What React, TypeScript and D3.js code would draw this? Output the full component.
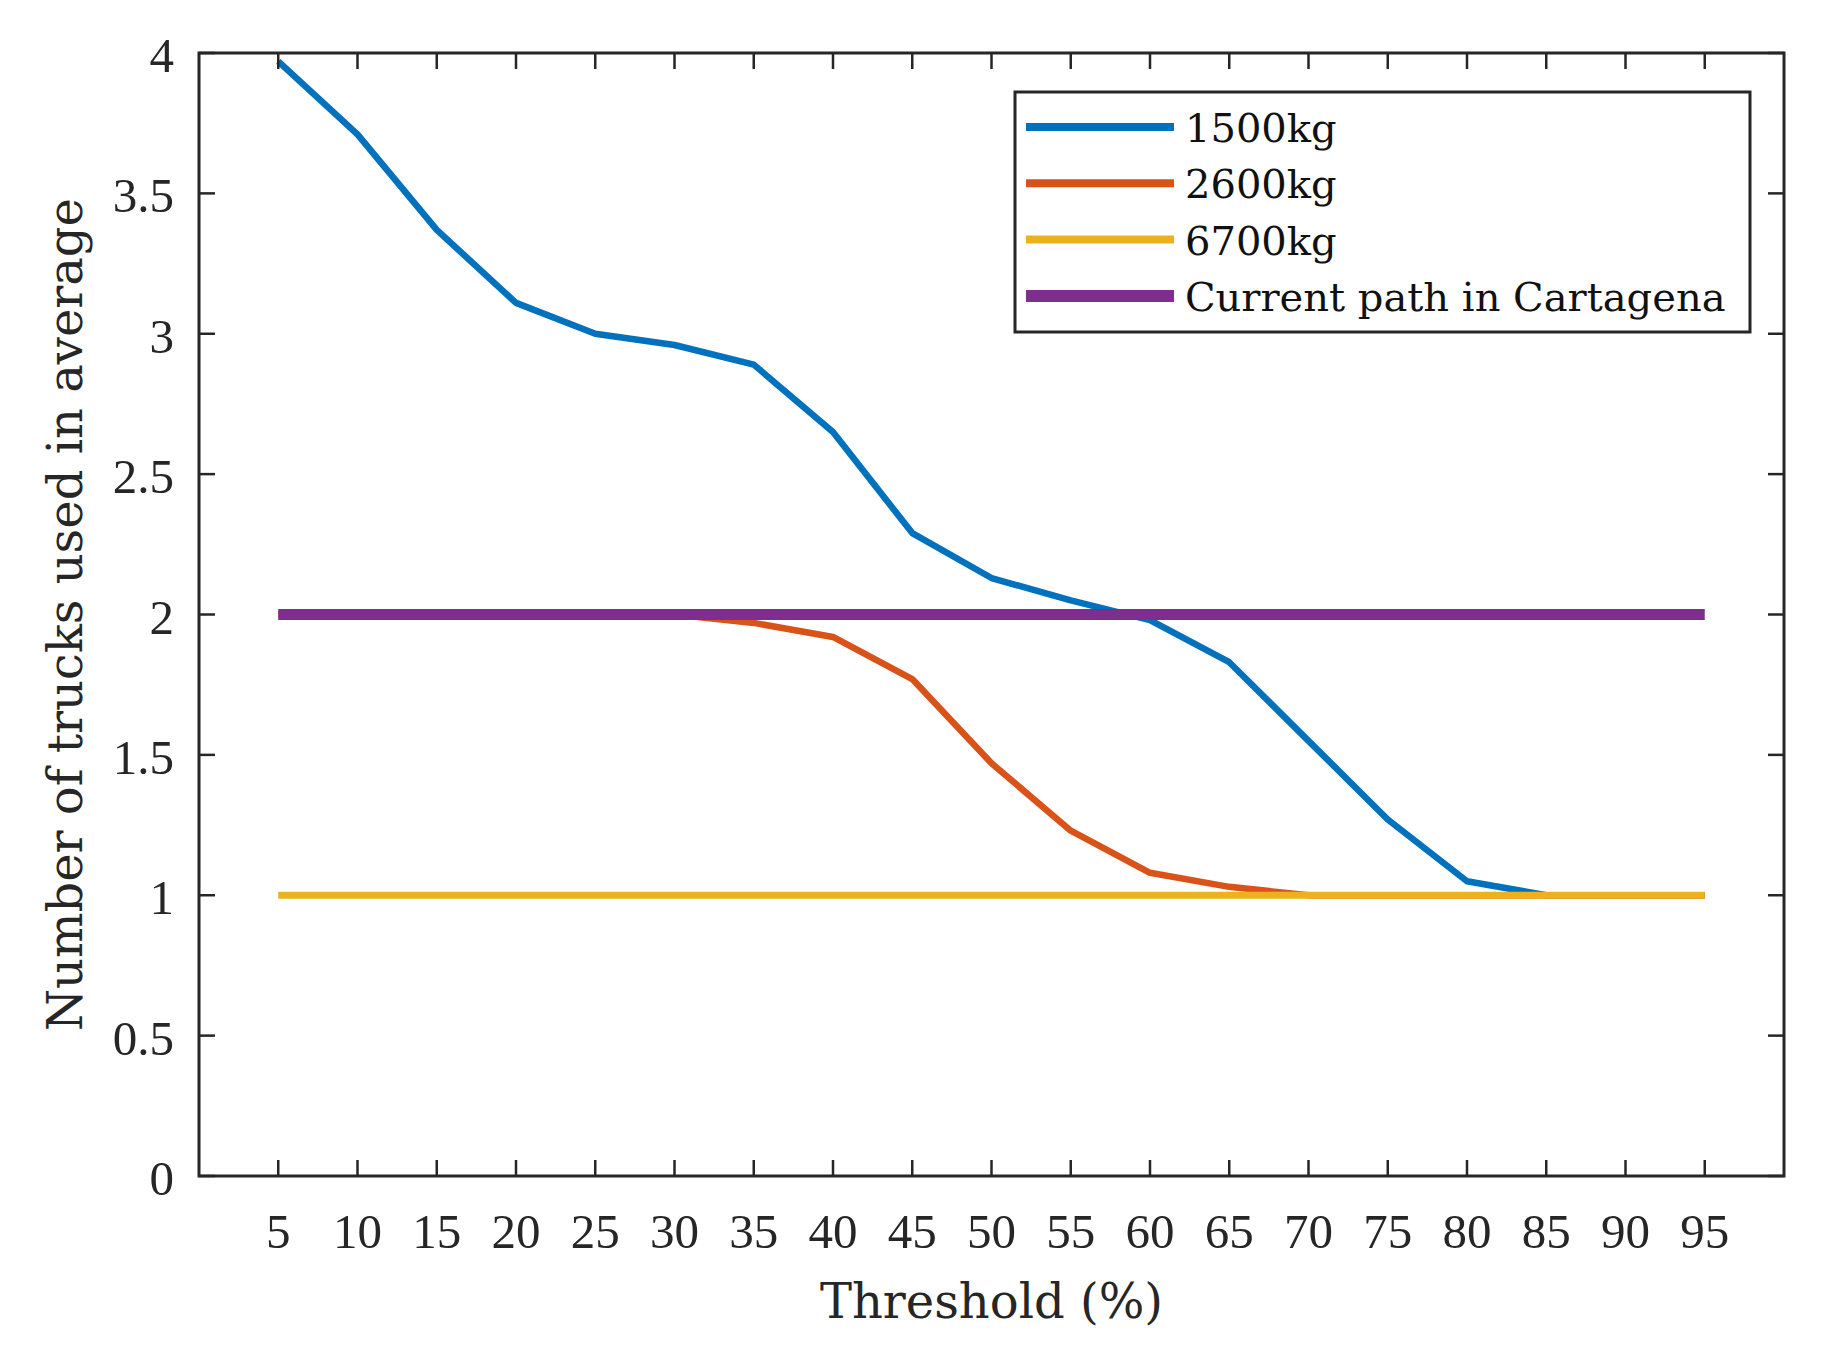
import React from "react";
import * as d3 from "d3";

const thresholds = [5, 10, 15, 20, 25, 30, 35, 40, 45, 50, 55, 60, 65, 70, 75, 80, 85, 90, 95];
const truck1500 = [3.97, 3.71, 3.37, 3.11, 3.0, 2.96, 2.89, 2.65, 2.29, 2.13, 2.05, 1.98, 1.83, 1.55, 1.27, 1.05, 1.0, 1.0, 1.0];
const truck2600 = [2.0, 2.0, 2.0, 2.0, 2.0, 2.0, 1.97, 1.92, 1.77, 1.47, 1.23, 1.08, 1.03, 1.0, 1.0, 1.0, 1.0, 1.0, 1.0];
const truck6700 = [1, 1, 1, 1, 1, 1, 1, 1, 1, 1, 1, 1, 1, 1, 1, 1, 1, 1, 1];
const currentPath = [2, 2, 2, 2, 2, 2, 2, 2, 2, 2, 2, 2, 2, 2, 2, 2, 2, 2, 2];
const yTicks = [0, 0.5, 1, 1.5, 2, 2.5, 3, 3.5, 4];
const seriesNames = ["1500kg", "2600kg", "6700kg", "Current path in Cartagena"];
const seriesColors = ["#0072BD", "#D95319", "#EDB120", "#7E2F8E"];
const xLabel = "Threshold (%)";
const yLabel = "Number of trucks used in average";

const W = 1830;
const H = 1360;
const L = 199, R = 1784, T = 53, B = 1176;

export default function App() {
  const x = d3.scaleLinear().domain([0, 100]).range([L, R]);
  const y = d3.scaleLinear().domain([0, 4]).range([B, T]);
  const series = [truck1500, truck2600, truck6700, currentPath];
  const widths = [6.5, 6.5, 7, 11];
  const legendWidths = [8, 8, 8, 12];
  const line = d3
    .line<number>()
    .x((_, i) => x(thresholds[i]))
    .y((d) => y(d));
  const tickFont = "'Liberation Serif', 'Times New Roman', serif";
  const textFont = "'DejaVu Serif', serif";
  const axisColor = "#262626";
  const tickLen = 16;

  const legX = 1015, legY = 92, legW = 735, legH = 240;
  const rowY = (i: number) => 127 + i * 56.3;

  return (
    <svg width={W} height={H} style={{ position: "absolute", left: 0, top: 0, background: "#fff" }}>
      <rect x={0} y={0} width={W} height={H} fill="#fff" />
      {/* series */}
      {series.map((s, k) => (
        <path key={k} d={line(s) || ""} fill="none" stroke={seriesColors[k]} strokeWidth={widths[k]} strokeLinejoin="round" />
      ))}
      {/* ticks */}
      {thresholds.map((t) => (
        <g key={"xt" + t}>
          <line x1={x(t)} x2={x(t)} y1={B} y2={B - tickLen} stroke={axisColor} strokeWidth={2.5} />
          <line x1={x(t)} x2={x(t)} y1={T} y2={T + tickLen} stroke={axisColor} strokeWidth={2.5} />
          <text x={x(t)} y={1248} textAnchor="middle" fontFamily={tickFont} fontSize={49} fill="#262626">
            {t}
          </text>
        </g>
      ))}
      {yTicks.map((v) => (
        <g key={"yt" + v}>
          <line x1={L} x2={L + tickLen} y1={y(v)} y2={y(v)} stroke={axisColor} strokeWidth={2.5} />
          <line x1={R} x2={R - tickLen} y1={y(v)} y2={y(v)} stroke={axisColor} strokeWidth={2.5} />
          <text x={174} y={y(v) + 19} textAnchor="end" fontFamily={tickFont} fontSize={49} fill="#262626">
            {v}
          </text>
        </g>
      ))}
      {/* box */}
      <rect x={L} y={T} width={R - L} height={B - T} fill="none" stroke={axisColor} strokeWidth={3} />
      {/* axis labels */}
      <text x={(L + R) / 2} y={1318} textAnchor="middle" fontFamily={textFont} fontSize={48} fill="#262626">
        {xLabel}
      </text>
      <text
        transform={`translate(82, ${(T + B) / 2}) rotate(-90)`}
        textAnchor="middle"
        fontFamily={textFont}
        fontSize={48}
        fill="#262626"
      >
        {yLabel}
      </text>
      {/* legend */}
      <rect x={legX} y={legY} width={legW} height={legH} fill="#fff" stroke={axisColor} strokeWidth={3} />
      {seriesNames.map((n, i) => (
        <g key={n}>
          <line x1={1026} x2={1174} y1={rowY(i)} y2={rowY(i)} stroke={seriesColors[i]} strokeWidth={legendWidths[i]} />
          <text x={1185} y={rowY(i) + 15} fontFamily={textFont} fontSize={40} fill="#111">
            {n}
          </text>
        </g>
      ))}
    </svg>
  );
}
